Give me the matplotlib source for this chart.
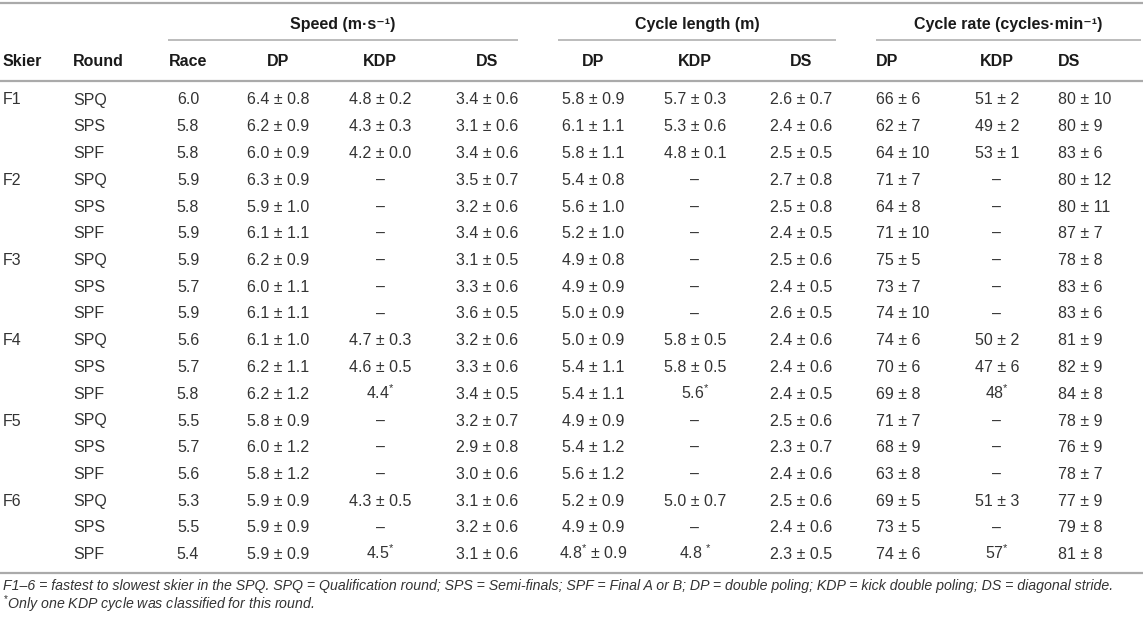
import matplotlib
matplotlib.use("Agg")
import matplotlib.pyplot as plt

plt.rcParams['font.family'] = ['Liberation Sans', 'DejaVu Sans']
plt.rcParams['mathtext.fontset'] = 'custom'
plt.rcParams['mathtext.rm'] = 'Liberation Sans'

skiers = ["F1", "F2", "F3", "F4", "F5", "F6"]
rounds = ["SPQ", "SPS", "SPF"]

race = ["6.0", "5.8", "5.8", "5.9", "5.8", "5.9", "5.9", "5.7", "5.9",
        "5.6", "5.7", "5.8", "5.5", "5.7", "5.6", "5.3", "5.5", "5.4"]
speed_dp = ["6.4 ± 0.8", "6.2 ± 0.9", "6.0 ± 0.9", "6.3 ± 0.9", "5.9 ± 1.0", "6.1 ± 1.1",
            "6.2 ± 0.9", "6.0 ± 1.1", "6.1 ± 1.1", "6.1 ± 1.0", "6.2 ± 1.1", "6.2 ± 1.2",
            "5.8 ± 0.9", "6.0 ± 1.2", "5.8 ± 1.2", "5.9 ± 0.9", "5.9 ± 0.9", "5.9 ± 0.9"]
speed_kdp = ["4.8 ± 0.2", "4.3 ± 0.3", "4.2 ± 0.0", "–", "–", "–",
             "–", "–", "–", "4.7 ± 0.3", "4.6 ± 0.5", "4.4$^{*}$",
             "–", "–", "–", "4.3 ± 0.5", "–", "4.5$^{*}$"]
speed_ds = ["3.4 ± 0.6", "3.1 ± 0.6", "3.4 ± 0.6", "3.5 ± 0.7", "3.2 ± 0.6", "3.4 ± 0.6",
            "3.1 ± 0.5", "3.3 ± 0.6", "3.6 ± 0.5", "3.2 ± 0.6", "3.3 ± 0.6", "3.4 ± 0.5",
            "3.2 ± 0.7", "2.9 ± 0.8", "3.0 ± 0.6", "3.1 ± 0.6", "3.2 ± 0.6", "3.1 ± 0.6"]
cl_dp = ["5.8 ± 0.9", "6.1 ± 1.1", "5.8 ± 1.1", "5.4 ± 0.8", "5.6 ± 1.0", "5.2 ± 1.0",
         "4.9 ± 0.8", "4.9 ± 0.9", "5.0 ± 0.9", "5.0 ± 0.9", "5.4 ± 1.1", "5.4 ± 1.1",
         "4.9 ± 0.9", "5.4 ± 1.2", "5.6 ± 1.2", "5.2 ± 0.9", "4.9 ± 0.9", "4.8$^{*}$ ± 0.9"]
cl_kdp = ["5.7 ± 0.3", "5.3 ± 0.6", "4.8 ± 0.1", "–", "–", "–",
          "–", "–", "–", "5.8 ± 0.5", "5.8 ± 0.5", "5.6$^{*}$",
          "–", "–", "–", "5.0 ± 0.7", "–", "4.8 $^{*}$"]
cl_ds = ["2.6 ± 0.7", "2.4 ± 0.6", "2.5 ± 0.5", "2.7 ± 0.8", "2.5 ± 0.8", "2.4 ± 0.5",
         "2.5 ± 0.6", "2.4 ± 0.5", "2.6 ± 0.5", "2.4 ± 0.6", "2.4 ± 0.6", "2.4 ± 0.5",
         "2.5 ± 0.6", "2.3 ± 0.7", "2.4 ± 0.6", "2.5 ± 0.6", "2.4 ± 0.6", "2.3 ± 0.5"]
cr_dp = ["66 ± 6", "62 ± 7", "64 ± 10", "71 ± 7", "64 ± 8", "71 ± 10",
         "75 ± 5", "73 ± 7", "74 ± 10", "74 ± 6", "70 ± 6", "69 ± 8",
         "71 ± 7", "68 ± 9", "63 ± 8", "69 ± 5", "73 ± 5", "74 ± 6"]
cr_kdp = ["51 ± 2", "49 ± 2", "53 ± 1", "–", "–", "–",
          "–", "–", "–", "50 ± 2", "47 ± 6", "48$^{*}$",
          "–", "–", "–", "51 ± 3", "–", "57$^{*}$"]
cr_ds = ["80 ± 10", "80 ± 9", "83 ± 6", "80 ± 12", "80 ± 11", "87 ± 7",
         "78 ± 8", "83 ± 6", "83 ± 6", "81 ± 9", "82 ± 9", "84 ± 8",
         "78 ± 9", "76 ± 9", "78 ± 7", "77 ± 9", "79 ± 8", "81 ± 8"]

groups = ["Speed (m·s⁻¹)", "Cycle length (m)", "Cycle rate (cycles·min⁻¹)"]

footnote1 = ("F1–6 = fastest to slowest skier in the SPQ. SPQ = Qualification round; SPS = Semi-finals; "
             "SPF = Final A or B; DP = double poling; KDP = kick double poling; DS = diagonal stride.")
footnote2 = "$^{*}$Only one KDP cycle was classified for this round."

W, H = 1143, 621
fig = plt.figure(figsize=(W / 100, H / 100), dpi=100)
ax = fig.add_axes([0, 0, 1, 1])
ax.set_xlim(0, W)
ax.set_ylim(H, 0)
ax.axis("off")

txt = "#333333"
hdr = "#1a1a1a"
rule = "#aaaaaa"
fs = 11.5
base = 5.5  # offset from row centre to text baseline

# rules
for y in (3, 81, 573):
    ax.plot([0, W], [y, y], color=rule, lw=1.6, solid_capstyle="butt")
spans = [(168, 518), (558, 836), (876, 1141)]
for (x0, x1), g in zip(spans, groups):
    ax.plot([x0, x1], [40, 40], color=rule, lw=1.1, solid_capstyle="butt")
    ax.text((x0 + x1) / 2, 23 + base, g, ha="center", va="baseline",
            fontsize=fs, fontweight="bold", color=hdr)

# columns: header, x, alignment, values
cols = [
    ("Skier", 3, "left", None),
    ("Round", 73, "left", None),
    ("Race", 188, "center", race),
    ("DP", 278, "center", speed_dp),
    ("KDP", 380, "center", speed_kdp),
    ("DS", 487, "center", speed_ds),
    ("DP", 593, "center", cl_dp),
    ("KDP", 695, "center", cl_kdp),
    ("DS", 801, "center", cl_ds),
    ("DP", 876, "left", cr_dp),
    ("KDP", 997, "center", cr_kdp),
    ("DS", 1058, "left", cr_ds),
]

y0, dy = 99, 26.75
for name, x, ha, values in cols:
    ax.text(x, 60 + base, name, ha=ha, va="baseline", fontsize=fs, fontweight="bold", color=hdr)
    if values is None:
        continue
    for i, v in enumerate(values):
        ax.text(x, y0 + i * dy + base, v, ha=ha, va="baseline", fontsize=fs, color=txt)

for i, s in enumerate(skiers):
    for j, r in enumerate(rounds):
        y = y0 + (i * 3 + j) * dy + base
        if j == 0:
            ax.text(3, y, s, ha="left", va="baseline", fontsize=fs, color=txt)
        ax.text(73, y, r, ha="left", va="baseline", fontsize=fs, color=txt)

# footnotes, first line fitted to the table width
f1 = ax.text(3, 585 + 5, footnote1, ha="left", va="baseline", fontsize=10.5,
             style="italic", color=txt)
renderer = fig.canvas.get_renderer()
w = f1.get_window_extent(renderer).width
ffs = 10.5 * 1117 / w
f1.set_fontsize(ffs)
ax.text(3, 604 + 5, footnote2, ha="left", va="baseline", fontsize=ffs,
        style="italic", color=txt)

fig.savefig("out.png", dpi=100)
